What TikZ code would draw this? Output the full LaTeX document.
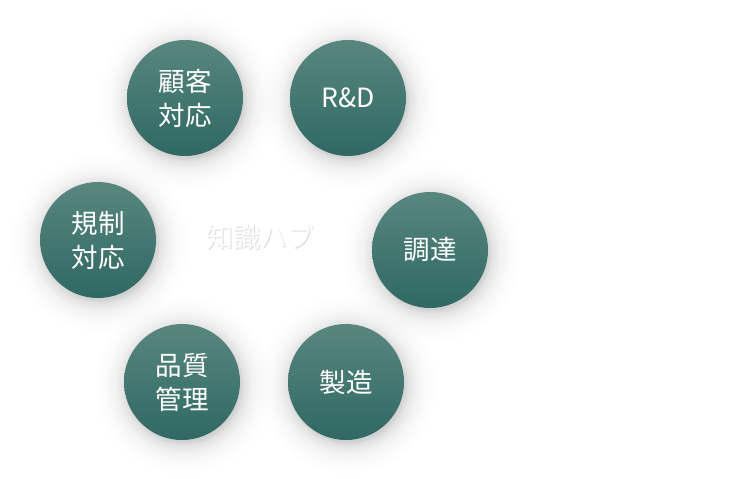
\documentclass[tikz,border=0pt]{standalone}
\usepackage{fontspec}
\setmainfont{Noto Sans CJK JP}
\usetikzlibrary{fadings}
\definecolor{tealtop}{HTML}{58877F}
\definecolor{tealbot}{HTML}{306863}
\pgfdeclareradialshading{shmask}{\pgfpoint{0bp}{0bp}}{%
  color(0bp)=(black!82); color(15.5bp)=(black!82); color(16.8bp)=(black!89);
  color(19bp)=(black!95); color(22bp)=(black!98.5); color(25bp)=(black); color(50bp)=(black)}
\pgfdeclarefading{shfade}{\pgfuseshading{shmask}}
\tikzset{
  dept/.style={circle, minimum size=116pt, inner sep=0pt,
    top color=tealtop, bottom color=tealbot, draw=none,
    text=white, font=\fontsize{26.5}{34}\selectfont, align=center},
  deptshadow/.style={circle, minimum size=180pt, inner sep=0pt, draw=none, fill=black, path fading=shfade},
  hub/.style={text=white, font=\fontsize{27}{32}\selectfont},
  hubshade/.style={text=black!40, opacity=0.35, font=\fontsize{27}{32}\selectfont}
}
\begin{document}
\begin{tikzpicture}[x=1pt,y=-1pt]
\useasboundingbox[fill=white] (0,0) rectangle (736,479);
\foreach \n/\x/\y in {s1/185/98, s2/348/98, s3/98/240, s4/430/250, s5/182/382, s6/346/382}
  \node[deptshadow] (\n) at (\x+1.5,\y+3) {};
\node[hubshade] (hubs) at (261,238.5) {知識ハブ};
\node[hub] (hub) at (260,237) {知識ハブ};
\node[dept] (cs) at (185,98) {顧客\\対応};
\node[dept] (rd) at (348,98) {R\&D};
\node[dept] (reg) at (98,240) {規制\\対応};
\node[dept] (proc) at (430,250) {調達};
\node[dept] (qm) at (182,382) {品質\\管理};
\node[dept] (mfg) at (346,382) {製造};
\end{tikzpicture}
\end{document}
